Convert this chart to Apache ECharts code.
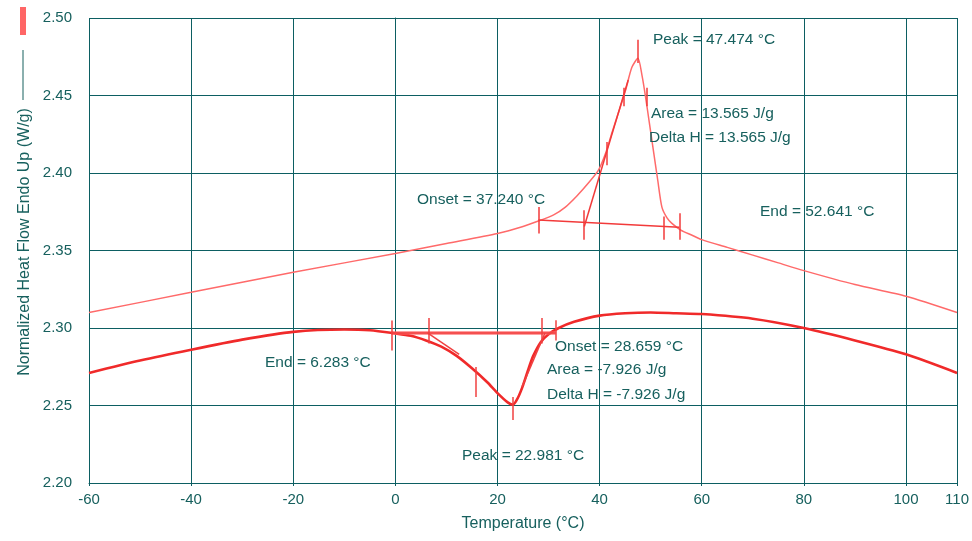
<!DOCTYPE html>
<html><head><meta charset="utf-8">
<script src="https://cdn.jsdelivr.net/npm/echarts@6/dist/echarts.min.js"></script>
<style>html,body{margin:0;padding:0;background:#fff}#c{width:972px;height:541px}</style>
</head><body><div id="c"></div>
<script>
// Upper (heating) curve: temperature (°C), heat flow (W/g)
const upperT = [-60,-40,-20,0,10,20,25,28,31,33.3,35.5,37.8,39.8,41.2,42.4,43.8,45.1,46.3,47.5,48.3,49,49.8,50.6,51.4,52.2,53.2,54.1,55.9,58,60,65,70,75,80,90,100,110];
const upperH = [2.310,2.323,2.336,2.348,2.3545,2.361,2.3655,2.369,2.373,2.378,2.385,2.3935,2.402,2.413,2.4258,2.440,2.4535,2.468,2.474,2.463,2.449,2.431,2.413,2.395,2.378,2.371,2.3677,2.3632,2.360,2.357,2.352,2.347,2.342,2.337,2.328,2.3205,2.310];
// Lower (cooling) curve
const lowerT = [-60,-50,-40,-30,-20,-10,-5,0,3,6,9,12,15,18,20,22,23,24,25,26,27,28.5,30,32,35,40,45,50,55,60,70,80,90,100,110];
const lowerH = [2.271,2.279,2.286,2.2925,2.2975,2.299,2.2985,2.2965,2.295,2.292,2.288,2.282,2.274,2.265,2.258,2.252,2.2505,2.255,2.263,2.273,2.282,2.291,2.296,2.300,2.304,2.308,2.3095,2.310,2.3095,2.309,2.306,2.300,2.292,2.283,2.271];
// Construction lines [t1, h1, t2, h2]
const upperBaseline = [28, 2.3697, 55.6, 2.365];
const upperTangent = [37.0, 2.3655, 45.6, 2.460];
const lowerBaseline = [-0.8, 2.2968, 31.4, 2.2968];
const lowerTangent = [24.8, 2.262, 29.3, 2.2968];
const lowerTangent2 = [6.3, 2.2968, 12.5, 2.283];
// Vertical event ticks [t, hTop, hBottom]
const upperTicks = [[28,2.378,2.361],[36.9,2.376,2.357],[47.4,2.486,2.471],[52.6,2.372,2.357],[55.6,2.374,2.357],[41.3,2.420,2.405],[44.8,2.455,2.443],[49.2,2.455,2.443]];
const lowerTicks = [[-0.8,2.3048,2.2855],[6.5,2.3065,2.290],[15.7,2.2748,2.2555],[22.9,2.2555,2.2406],[28.6,2.3065,2.290],[31.4,2.305,2.292]];
// Axis settings / labels
const xMin = -60, xMax = 110, xStep = 20;
const yMin = 2.20, yMax = 2.50, yStep = 0.05;
const xTitle = 'Temperature (°C)';
const yTitle = 'Normalized Heat Flow Endo Up (W/g)';
const notes = [
  ['Peak = 47.474 °C', 653, 40],
  ['Area = 13.565 J/g', 651, 114],
  ['Delta H = 13.565 J/g', 649, 138],
  ['Onset = 37.240 °C', 417, 200],
  ['End = 52.641 °C', 760, 212],
  ['End = 6.283 °C', 265, 363],
  ['Onset = 28.659 °C', 555, 347],
  ['Area = -7.926 J/g', 547, 370],
  ['Delta H = -7.926 J/g', 547, 395],
  ['Peak = 22.981 °C', 462, 456]
];

const TXT = '#17605e', GRID = '#0c5e62';
const FONT = '"Liberation Sans", Arial, sans-serif';
const pairs = (a, b) => a.map((v, i) => [v, b[i]]);
const seg = s => [{coord:[s[0], s[1]]},{coord:[s[2], s[3]]}];
const tickSegs = arr => arr.map(t => [{coord:[t[0], t[1]]},{coord:[t[0], t[2]]}]);

const chart = echarts.init(document.getElementById('c'));
chart.setOption({
  animation: false,
  backgroundColor: '#fff',
  grid: {left: 89, right: 14, top: 18, bottom: 58},
  xAxis: {
    type: 'value', min: xMin, max: xMax, interval: xStep,
    name: xTitle, nameLocation: 'middle', nameGap: 33,
    nameTextStyle: {color: TXT, fontSize: 16, fontFamily: FONT},
    axisLine: {show: true, lineStyle: {color: GRID, width: 1}},
    axisTick: {show: true, length: 3, lineStyle: {color: GRID}},
    splitLine: {show: true, lineStyle: {color: GRID, width: 1}},
    axisLabel: {color: TXT, fontSize: 15, margin: 9, fontFamily: FONT}
  },
  yAxis: {
    type: 'value', min: yMin, max: yMax, interval: yStep,
    axisLine: {show: true, lineStyle: {color: GRID, width: 1}},
    axisTick: {show: true, length: 5, lineStyle: {color: GRID}},
    splitLine: {show: true, lineStyle: {color: GRID, width: 1}},
    axisLabel: {color: TXT, fontSize: 15, margin: 17, fontFamily: FONT, formatter: v => v.toFixed(2)}
  },
  graphic: [
    {type: 'rect', shape: {x: 20, y: 7, width: 6, height: 28}, style: {fill: '#ff6666'}},
    {type: 'line', shape: {x1: 23, y1: 50, x2: 23, y2: 100}, style: {stroke: TXT, lineWidth: 1}},
    {type: 'text', x: 25, y: 242, rotation: Math.PI / 2,
      style: {text: yTitle, fill: TXT, font: '16px ' + FONT, textAlign: 'center', textVerticalAlign: 'middle'}}
  ].concat(notes.map(n => ({type: 'text', x: n[1], y: n[2], z: 50,
      style: {text: n[0], fill: TXT, font: '15.5px ' + FONT, textAlign: 'left', textVerticalAlign: 'middle'}}))),
  series: [
    {
      type: 'line', data: pairs(upperT, upperH), smooth: 0.25, symbol: 'none',
      lineStyle: {color: '#ff6a6a', width: 1.5},
      markLine: {silent: true, symbol: 'none', label: {show: false},
        lineStyle: {color: '#f23a3a', width: 1.5, type: 'solid'},
        data: [seg(upperBaseline), seg(upperTangent)].concat(tickSegs(upperTicks))}
    },
    {
      type: 'line', data: pairs(lowerT, lowerH), smooth: 0.25, symbol: 'none',
      lineStyle: {color: '#f02a2a', width: 2.6},
      markLine: {silent: true, symbol: 'none', label: {show: false},
        lineStyle: {color: '#f04040', width: 1.5, type: 'solid'},
        data: [seg(lowerBaseline), seg(lowerTangent), seg(lowerTangent2)].concat(tickSegs(lowerTicks))}
    },
    {
      type: 'line', data: [[lowerBaseline[0], lowerBaseline[1]], [lowerBaseline[2], lowerBaseline[3]]],
      symbol: 'none', lineStyle: {color: '#ff6060', width: 3.5, opacity: 0.8}
    }
  ]
});
</script></body></html>
